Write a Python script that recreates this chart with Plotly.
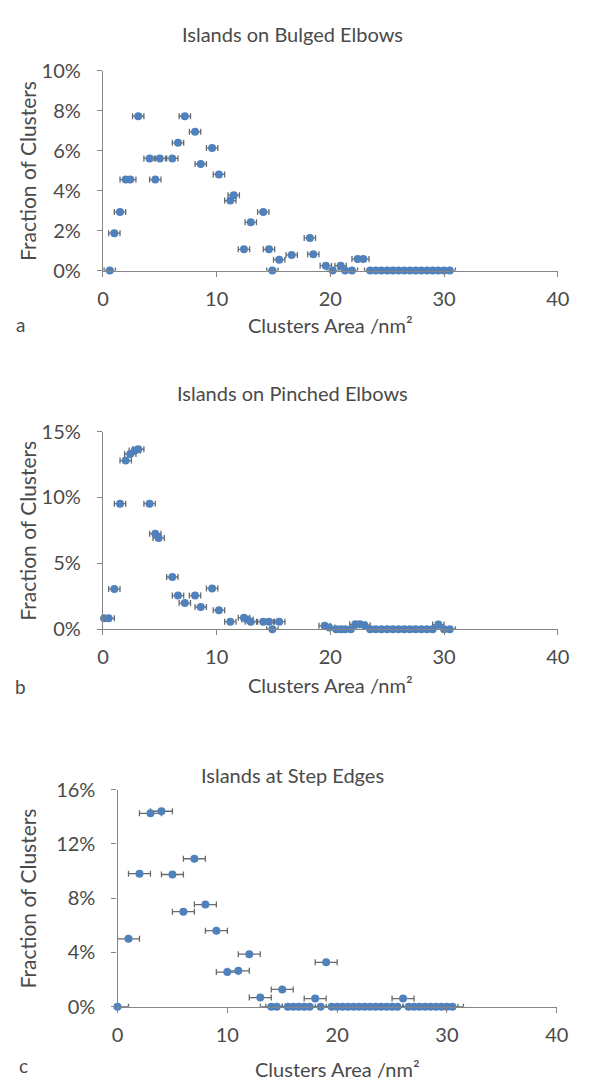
import plotly.graph_objects as go

# ---------------- data (percent of clusters) ----------------
a_x = [0.6, 1.0, 1.5, 2.0, 2.4, 3.1, 4.1, 4.6, 5.0, 6.1, 6.6, 7.2, 8.1, 8.6, 9.6, 10.2,
       11.2, 11.5, 12.4, 13.0, 14.1, 14.6, 14.9, 15.5, 16.6, 18.2, 18.5, 19.6, 20.2, 20.9,
       21.3, 21.9, 22.4, 22.9, 23.5, 24.0, 24.5, 25.0, 25.5, 26.0, 26.5, 27.0, 27.5, 28.0,
       28.5, 29.0, 29.5, 30.0, 30.5]
a_y = [0, 1.87, 2.93, 4.55, 4.55, 7.72, 5.61, 4.55, 5.61, 5.61, 6.39, 7.72, 6.94, 5.33, 6.13, 4.81,
       3.50, 3.77, 1.06, 2.41, 2.93, 1.06, 0, 0.54, 0.78, 1.63, 0.82, 0.24, 0, 0.24,
       0, 0, 0.57, 0.57, 0, 0, 0, 0, 0, 0, 0, 0, 0, 0,
       0, 0, 0, 0, 0]

b_x = [0.1, 0.5, 1.0, 1.5, 2.0, 2.4, 2.8, 3.1, 4.1, 4.6, 4.9, 6.1, 6.6, 7.2, 8.1, 8.6,
       9.6, 10.2, 11.2, 12.4, 12.7, 13.0, 14.1, 14.6, 14.9, 15.5, 19.5, 19.9, 20.5, 20.9,
       21.3, 21.8, 22.2, 22.6, 23.0, 23.5, 24.0, 24.5, 25.0, 25.5, 26.0, 26.5, 27.0, 27.5,
       28.0, 28.5, 29.0, 29.5, 30.0, 30.5]
b_y = [0.82, 0.82, 3.04, 9.53, 12.8, 13.3, 13.56, 13.66, 9.53, 7.25, 6.93, 3.96, 2.55, 1.98, 2.55, 1.68,
       3.09, 1.44, 0.57, 0.87, 0.74, 0.57, 0.57, 0.57, 0, 0.57, 0.25, 0.12, 0, 0,
       0, 0, 0.37, 0.37, 0.30, 0, 0, 0, 0, 0, 0, 0, 0, 0,
       0, 0, 0, 0.35, 0, 0]

c_x = [0, 1, 2, 3, 4, 5, 6, 7, 8, 9, 10, 11, 12, 13, 14, 14.5,
       15, 15.5, 16, 16.5, 17, 17.5, 18, 18.5, 19, 19.5, 20, 20.5, 21, 21.5,
       22, 22.5, 23, 23.5, 24, 24.5, 25, 25.5, 26, 26.5, 27, 27.5, 28, 28.5,
       29, 29.5, 30, 30.5]
c_y = [0, 5.0, 9.8, 14.25, 14.4, 9.74, 7.0, 10.9, 7.52, 5.6, 2.55, 2.64, 3.87, 0.67, 0, 0,
       1.27, 0, 0, 0, 0, 0, 0.6, 0, 3.27, 0, 0, 0, 0, 0,
       0, 0, 0, 0, 0, 0, 0, 0, 0.6, 0, 0, 0, 0, 0,
       0, 0, 0, 0]

a_err = 0.5
b_err = 0.5
c_err = 1.0

titles = ["Islands on Bulged Elbows", "Islands on Pinched Elbows", "Islands at Step Edges"]
x_title = "Clusters Area /nm²"
y_title = "Fraction of Clusters"
letters = ["a", "b", "c"]

# ---------------- layout helpers ----------------
W, H = 594, 1092
FONT = "Lato"
TXT = "#4a4a4a"
AX = "#858585"
BLUE = "#4F81BD"


def fx(px):
    return px / W


def fy(py):
    return 1 - py / H


panels = [
    dict(x=a_x, y=a_y, err=a_err, xd=(100, 569), yd=(59, 263.3), ymax=10, dt=2,
         title_y=21, xt_y=319, yt_x=22, letter_xy=(15, 319)),
    dict(x=b_x, y=b_y, err=b_err, xd=(100, 569), yd=(428, 630), ymax=15, dt=5,
         title_y=389, xt_y=687, yt_x=22, letter_xy=(15, 689)),
    dict(x=c_x, y=c_y, err=c_err, xd=(115, 568), yd=(794, 1016), ymax=16, dt=4,
         title_y=779, xt_y=1080, yt_x=22, letter_xy=(18, 1076)),
]

fig = go.Figure()
annotations = []
layout = {}
for i, p in enumerate(panels):
    k = "" if i == 0 else str(i + 1)
    fig.add_trace(go.Scatter(
        x=p["x"], y=p["y"], mode="markers",
        xaxis="x" + k, yaxis="y" + k,
        marker=dict(color=BLUE, size=8),
        error_x=dict(type="constant", value=p["err"], color="#6a6a6a", thickness=1.3, width=3),
        cliponaxis=False, showlegend=False,
    ))
    layout["xaxis" + k] = dict(
        domain=[fx(p["xd"][0]), fx(p["xd"][1])], anchor="y" + k,
        range=[0, 40], dtick=10, tick0=0, showgrid=False, zeroline=False,
        showline=True, linecolor=AX, linewidth=1.3, ticks="outside", ticklen=5,
        tickcolor=AX, tickwidth=1.3, ticklabelstandoff=5,
        tickfont=dict(family=FONT, size=20, color=TXT),
    )
    layout["yaxis" + k] = dict(
        domain=[fy(p["yd"][1]), fy(p["yd"][0])], anchor="x" + k,
        range=[0, p["ymax"]], dtick=p["dt"], tick0=0, showgrid=False, zeroline=False,
        showline=True, linecolor=AX, linewidth=1.3, ticks="outside", ticklen=5,
        tickcolor=AX, tickwidth=1.3, ticksuffix="%", ticklabelstandoff=12,
        tickfont=dict(family=FONT, size=20, color=TXT),
    )
    annotations.append(dict(text=titles[i], x=fx(295), y=fy(p["title_y"]), xref="paper", yref="paper",
                            xanchor="center", yanchor="middle", showarrow=False,
                            font=dict(family=FONT, size=20, color=TXT)))
    annotations.append(dict(text=x_title, x=fx((p["xd"][0] + p["xd"][1]) / 2), y=fy(p["xt_y"]),
                            xref="paper", yref="paper", xanchor="center", yanchor="middle",
                            showarrow=False, font=dict(family=FONT, size=20, color=TXT)))
    annotations.append(dict(text=y_title, x=fx(p["yt_x"]), y=fy((p["yd"][0] + p["yd"][1]) / 2),
                            xref="paper", yref="paper", xanchor="center", yanchor="middle",
                            textangle=-90, showarrow=False,
                            font=dict(family=FONT, size=21, color=TXT)))
    annotations.append(dict(text=letters[i], x=fx(p["letter_xy"][0]), y=fy(p["letter_xy"][1]),
                            xref="paper", yref="paper", xanchor="center", yanchor="middle",
                            showarrow=False, font=dict(family=FONT, size=19, color=TXT)))

fig.update_layout(
    width=W, height=H, margin=dict(l=0, r=0, t=0, b=0),
    paper_bgcolor="white", plot_bgcolor="white",
    annotations=annotations, **layout,
)

fig.write_html("out.html")
